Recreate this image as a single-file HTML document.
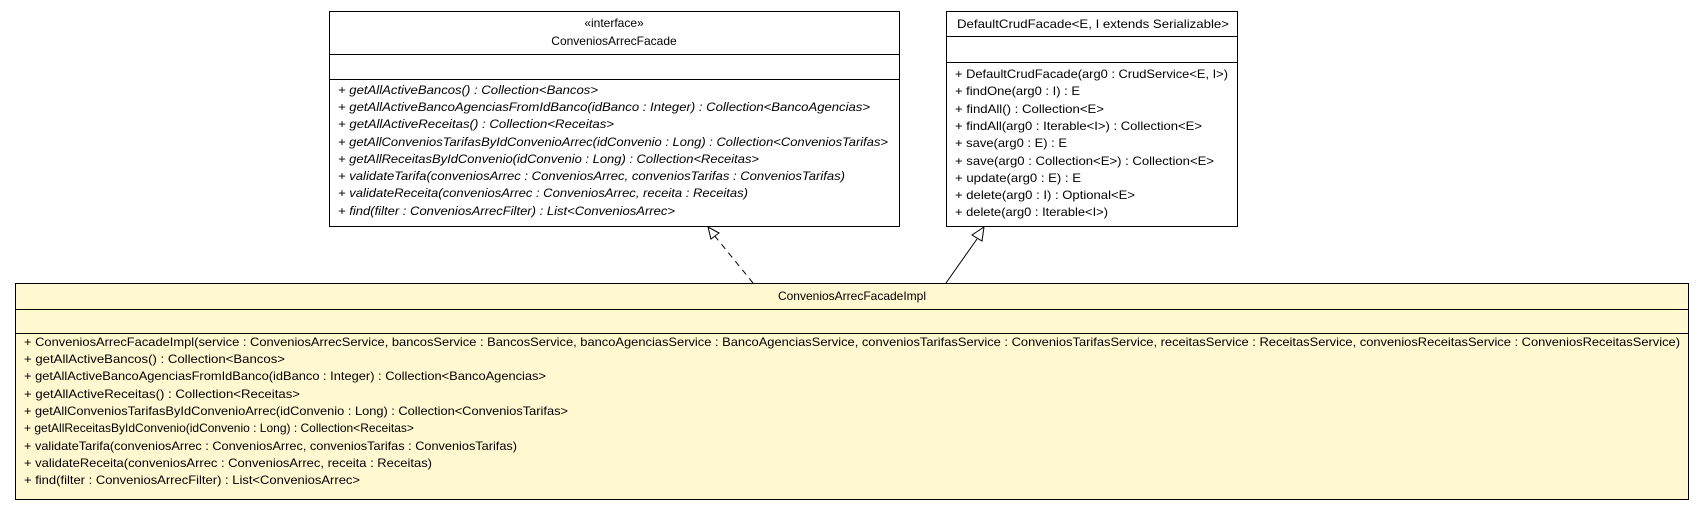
<!DOCTYPE html>
<html><head><meta charset="utf-8"><style>body{margin:0;background:#fff}svg{display:block}text{font-family:"Liberation Sans",sans-serif;font-size:12px;fill:#000}</style></head><body>
<svg width="1705" height="509" xmlns="http://www.w3.org/2000/svg">
<rect x="329.5" y="11.5" width="570" height="215" fill="#fff" stroke="#000"/>
<line x1="329" y1="54.5" x2="899" y2="54.5" stroke="#000"/>
<line x1="329" y1="79.5" x2="899" y2="79.5" stroke="#000"/>
<text x="614" y="27" text-anchor="middle">«interface»</text>
<text x="614" y="45" text-anchor="middle">ConveniosArrecFacade</text>
<g style="font-style:italic">
<text x="338" y="94" textLength="260" lengthAdjust="spacingAndGlyphs">+ getAllActiveBancos() : Collection&lt;Bancos&gt;</text>
<text x="338" y="111" textLength="532" lengthAdjust="spacingAndGlyphs">+ getAllActiveBancoAgenciasFromIdBanco(idBanco : Integer) : Collection&lt;BancoAgencias&gt;</text>
<text x="338" y="128" textLength="276" lengthAdjust="spacingAndGlyphs">+ getAllActiveReceitas() : Collection&lt;Receitas&gt;</text>
<text x="338" y="146" textLength="550" lengthAdjust="spacingAndGlyphs">+ getAllConveniosTarifasByIdConvenioArrec(idConvenio : Long) : Collection&lt;ConveniosTarifas&gt;</text>
<text x="338" y="163" textLength="421" lengthAdjust="spacingAndGlyphs">+ getAllReceitasByIdConvenio(idConvenio : Long) : Collection&lt;Receitas&gt;</text>
<text x="338" y="180" textLength="507" lengthAdjust="spacingAndGlyphs">+ validateTarifa(conveniosArrec : ConveniosArrec, conveniosTarifas : ConveniosTarifas)</text>
<text x="338" y="197" textLength="410" lengthAdjust="spacingAndGlyphs">+ validateReceita(conveniosArrec : ConveniosArrec, receita : Receitas)</text>
<text x="338" y="215" textLength="337" lengthAdjust="spacingAndGlyphs">+ find(filter : ConveniosArrecFilter) : List&lt;ConveniosArrec&gt;</text>
</g>
<rect x="946.5" y="11.5" width="291" height="215" fill="#fff" stroke="#000"/>
<line x1="946" y1="36.5" x2="1237" y2="36.5" stroke="#000"/>
<line x1="946" y1="62.5" x2="1237" y2="62.5" stroke="#000"/>
<text x="957" y="28" textLength="272" lengthAdjust="spacingAndGlyphs">DefaultCrudFacade&lt;E, I extends Serializable&gt;</text>
<text x="955" y="78" textLength="273" lengthAdjust="spacingAndGlyphs">+ DefaultCrudFacade(arg0 : CrudService&lt;E, I&gt;)</text>
<text x="955" y="95" textLength="125" lengthAdjust="spacingAndGlyphs">+ findOne(arg0 : I) : E</text>
<text x="955" y="113" textLength="149" lengthAdjust="spacingAndGlyphs">+ findAll() : Collection&lt;E&gt;</text>
<text x="955" y="130" textLength="247" lengthAdjust="spacingAndGlyphs">+ findAll(arg0 : Iterable&lt;I&gt;) : Collection&lt;E&gt;</text>
<text x="955" y="147" textLength="112" lengthAdjust="spacingAndGlyphs">+ save(arg0 : E) : E</text>
<text x="955" y="165" textLength="259" lengthAdjust="spacingAndGlyphs">+ save(arg0 : Collection&lt;E&gt;) : Collection&lt;E&gt;</text>
<text x="955" y="182" textLength="126" lengthAdjust="spacingAndGlyphs">+ update(arg0 : E) : E</text>
<text x="955" y="199" textLength="180" lengthAdjust="spacingAndGlyphs">+ delete(arg0 : I) : Optional&lt;E&gt;</text>
<text x="955" y="216" textLength="153" lengthAdjust="spacingAndGlyphs">+ delete(arg0 : Iterable&lt;I&gt;)</text>
<rect x="15.5" y="283.5" width="1673" height="216" fill="#fff8d0" stroke="#000"/>
<line x1="15" y1="309.5" x2="1689" y2="309.5" stroke="#000"/>
<line x1="15" y1="333.5" x2="1689" y2="333.5" stroke="#000"/>
<text x="852" y="300" text-anchor="middle">ConveniosArrecFacadeImpl</text>
<text x="24" y="346" textLength="1656" lengthAdjust="spacingAndGlyphs">+ ConveniosArrecFacadeImpl(service : ConveniosArrecService, bancosService : BancosService, bancoAgenciasService : BancoAgenciasService, conveniosTarifasService : ConveniosTarifasService, receitasService : ReceitasService, conveniosReceitasService : ConveniosReceitasService)</text>
<text x="24" y="363" textLength="261" lengthAdjust="spacingAndGlyphs">+ getAllActiveBancos() : Collection&lt;Bancos&gt;</text>
<text x="24" y="380" textLength="522" lengthAdjust="spacingAndGlyphs">+ getAllActiveBancoAgenciasFromIdBanco(idBanco : Integer) : Collection&lt;BancoAgencias&gt;</text>
<text x="24" y="398" textLength="276" lengthAdjust="spacingAndGlyphs">+ getAllActiveReceitas() : Collection&lt;Receitas&gt;</text>
<text x="24" y="415" textLength="544" lengthAdjust="spacingAndGlyphs">+ getAllConveniosTarifasByIdConvenioArrec(idConvenio : Long) : Collection&lt;ConveniosTarifas&gt;</text>
<text x="24" y="432">+ getAllReceitasByIdConvenio(idConvenio : Long) : Collection&lt;Receitas&gt;</text>
<text x="24" y="450" textLength="493" lengthAdjust="spacingAndGlyphs">+ validateTarifa(conveniosArrec : ConveniosArrec, conveniosTarifas : ConveniosTarifas)</text>
<text x="24" y="467" textLength="408" lengthAdjust="spacingAndGlyphs">+ validateReceita(conveniosArrec : ConveniosArrec, receita : Receitas)</text>
<text x="24" y="484" textLength="336" lengthAdjust="spacingAndGlyphs">+ find(filter : ConveniosArrecFilter) : List&lt;ConveniosArrec&gt;</text>
<line x1="753" y1="283" x2="714" y2="235" stroke="#000" stroke-dasharray="6,5"/>
<polygon points="708,227 719,233 711,239" fill="#fff" stroke="#000"/>
<line x1="946" y1="283" x2="977" y2="239" stroke="#000"/>
<polygon points="984,227 982,241 972,235" fill="#fff" stroke="#000"/>
</svg>
</body></html>
